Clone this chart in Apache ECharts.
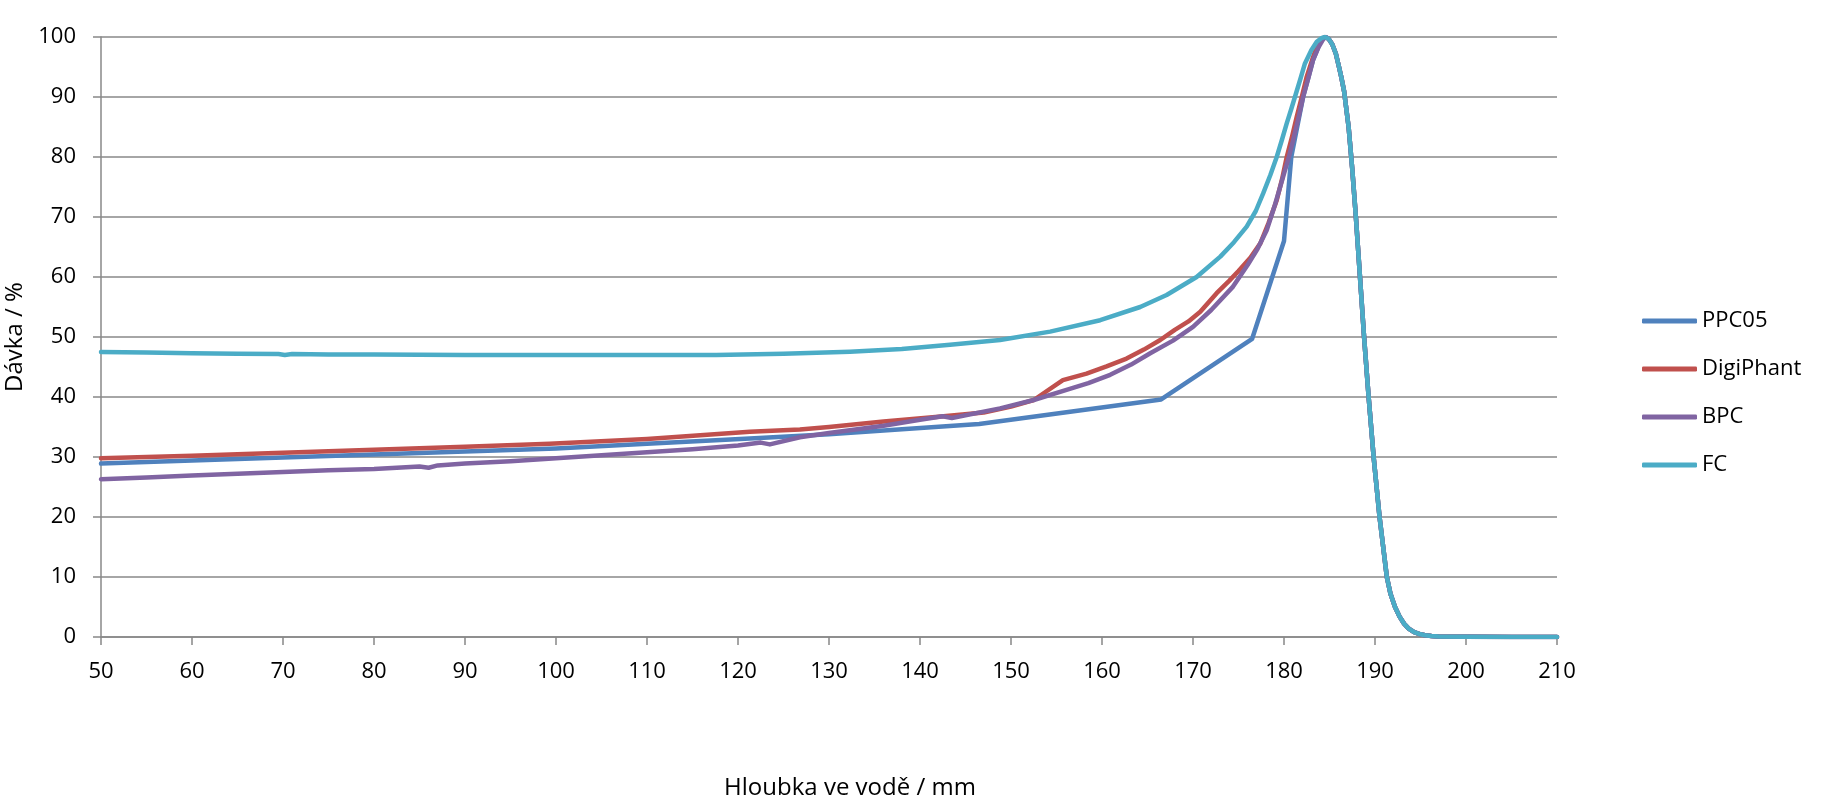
<!DOCTYPE html>
<html>
<head>
<meta charset="utf-8">
<script src="https://cdn.jsdelivr.net/npm/echarts@6/dist/echarts.min.js"></script>
<style>
html,body{margin:0;padding:0;background:#fff;}
#c{width:1826px;height:797px;}
</style>
</head>
<body>
<div id="c"></div>
<script>
// ---- data ----
const seriesNames = ['PPC05', 'DigiPhant', 'BPC', 'FC'];
const seriesColors = ['#4F81BD', '#C0504D', '#8064A2', '#4BACC6'];

// shared distal fall-off (all detectors coincide here)
const tailX = [184.9, 185.3, 185.7, 186.0, 186.3, 186.6, 187.1, 187.5, 187.9, 188.35, 188.8, 189.3, 189.85, 190.5, 191.3, 191.7, 192.2, 192.7, 193.2, 193.7, 194.3, 195.0, 195.5, 196.2, 197, 200, 205, 210];
const tailY = [99.7, 98.8, 97.2, 95.3, 93.3, 91, 85, 78, 70, 60, 50, 40, 30, 20, 10, 7.2, 5, 3.4, 2.2, 1.4, 0.8, 0.45, 0.3, 0.18, 0.1, 0.05, 0, 0];

const ppc05X = [50, 60, 70, 80, 90, 100, 110, 121.3, 130, 136, 146.5, 166.5, 176.5, 180.0, 180.8, 182.1, 183.2, 184.0, 184.5];
const ppc05Y = [28.9, 29.4, 29.9, 30.4, 30.9, 31.4, 32.2, 33.1, 33.8, 34.4, 35.5, 39.6, 49.7, 66.0, 80, 90, 96.2, 99.2, 100];

const digiX = [50, 60, 70, 80, 90, 99.3, 110, 121.3, 126.8, 130, 136, 142, 147, 150, 152.5, 155.7, 158.3, 160.5, 162.7, 164.6, 166.4, 168, 169.5, 170.8, 172.6, 174, 175, 176.3, 177.4, 178.3, 179.2, 179.8, 180.3, 180.9, 181.4, 182.0, 182.5, 183.1, 183.6, 184.1, 184.5];
const digiY = [29.8, 30.2, 30.7, 31.2, 31.7, 32.2, 33.0, 34.2, 34.6, 35.0, 35.9, 36.7, 37.4, 38.4, 39.5, 42.8, 43.9, 45.1, 46.4, 47.9, 49.5, 51.2, 52.6, 54.2, 57.3, 59.4, 61.0, 63.2, 65.6, 69.0, 72.8, 76.4, 80, 83.5, 86.7, 90.3, 93.4, 96.2, 98.4, 99.6, 100];

const bpcX = [50, 55, 60, 65, 70, 75, 80, 85, 86, 87, 90, 95, 100, 105, 110, 115, 120, 122.5, 123.5, 126.8, 130, 136, 140, 142.5, 143.5, 148.8, 152.5, 156.1, 158.5, 160.9, 163.2, 165.3, 167.8, 170, 172, 174.4, 176, 177.1, 178.1, 179.0, 179.9, 180.5, 181, 181.6, 182.1, 182.7, 183.2, 183.8, 184.3, 184.6];
const bpcY = [26.3, 26.6, 26.9, 27.2, 27.5, 27.8, 28.0, 28.4, 28.2, 28.6, 28.9, 29.3, 29.8, 30.3, 30.8, 31.3, 31.9, 32.4, 32.1, 33.3, 34.0, 35.2, 36.2, 36.8, 36.5, 38.1, 39.5, 41.2, 42.3, 43.7, 45.4, 47.3, 49.4, 51.7, 54.5, 58.4, 62.0, 64.7, 67.8, 72.0, 76.7, 79.8, 82.8, 86.6, 90, 93.3, 96.2, 98.3, 99.6, 100];

const fcX = [50, 55, 60, 65, 69.5, 70.2, 71, 75, 80, 90, 100, 110, 117.6, 125, 132.3, 138, 143.3, 148.8, 154.3, 159.8, 164.2, 167.1, 170.4, 173.0, 174.5, 175.9, 176.9, 177.7, 178.5, 179.2, 179.8, 180.3, 180.8, 181.2, 181.8, 182.3, 183.0, 183.6, 184.1, 184.5];
const fcY = [47.5, 47.4, 47.3, 47.2, 47.15, 47.0, 47.15, 47.1, 47.1, 47.0, 47.0, 47.0, 47.0, 47.2, 47.55, 48.0, 48.7, 49.5, 50.9, 52.8, 55.0, 57.0, 60.0, 63.4, 65.8, 68.4, 71.0, 73.9, 77.0, 80, 83.0, 85.6, 88.0, 90, 93.0, 95.6, 97.8, 99.2, 99.8, 100];

const xTicks = {min: 50, max: 210, step: 10};
const yTicks = {min: 0, max: 100, step: 10};

// ---- build ----
function zip(xs, ys) { return xs.map((x, i) => [x, ys[i]]); }
const seriesData = [
  zip(ppc05X.concat(tailX), ppc05Y.concat(tailY)),
  zip(digiX.concat(tailX), digiY.concat(tailY)),
  zip(bpcX.concat(tailX), bpcY.concat(tailY)),
  zip(fcX.concat(tailX), fcY.concat(tailY))
];

const FONT = "'Open Sans', sans-serif";
const AXIS_GRAY = '#888888';

const chart = echarts.init(document.getElementById('c'), null, {renderer: 'canvas'});
chart.setOption({
  backgroundColor: '#ffffff',
  animation: false,
  textStyle: {fontFamily: FONT, color: '#000'},
  grid: {left: 101, right: 269, top: 37, bottom: 160, containLabel: false, outerBoundsMode: 'none'},
  legend: {
    orient: 'vertical',
    left: 1642,
    top: 310,
    padding: 0,
    icon: 'roundRect',
    itemWidth: 55,
    itemHeight: 5,
    itemGap: 26,
    textStyle: {fontFamily: FONT, fontSize: 22, color: '#000', lineHeight: 22},
    data: seriesNames
  },
  xAxis: {
    type: 'value',
    min: xTicks.min, max: xTicks.max, interval: xTicks.step,
    name: 'Hloubka ve vodě / mm',
    nameLocation: 'middle',
    nameGap: 139,
    nameTextStyle: {fontFamily: FONT, fontSize: 24, color: '#000', padding: [0, 0, 0, 42]},
    axisLine: {show: true, onZero: false, lineStyle: {color: AXIS_GRAY, width: 1.5}},
    axisTick: {show: true, length: 8, lineStyle: {color: AXIS_GRAY, width: 1.5}},
    axisLabel: {fontFamily: FONT, fontSize: 22, color: '#000', margin: 24},
    splitLine: {show: false}
  },
  yAxis: {
    type: 'value',
    min: yTicks.min, max: yTicks.max, interval: yTicks.step,
    name: 'Dávka / %',
    nameLocation: 'middle',
    nameRotate: 90,
    nameGap: 54,
    nameTextStyle: {fontFamily: FONT, fontSize: 24, color: '#000'},
    axisLine: {show: true, lineStyle: {color: AXIS_GRAY, width: 1.5}},
    axisTick: {show: true, length: 8, lineStyle: {color: AXIS_GRAY, width: 1.5}},
    axisLabel: {fontFamily: FONT, fontSize: 22, color: '#000', margin: 25},
    splitLine: {show: true, lineStyle: {color: AXIS_GRAY, width: 1.5}}
  },
  series: seriesNames.map((n, i) => ({
    name: n,
    type: 'line',
    data: seriesData[i],
    showSymbol: false,
    symbol: 'none',
    smooth: false,
    color: seriesColors[i],
    lineStyle: {color: seriesColors[i], width: 4.5, cap: 'round', join: 'round'},
    z: 2 + i
  }))
});
</script>
</body>
</html>
